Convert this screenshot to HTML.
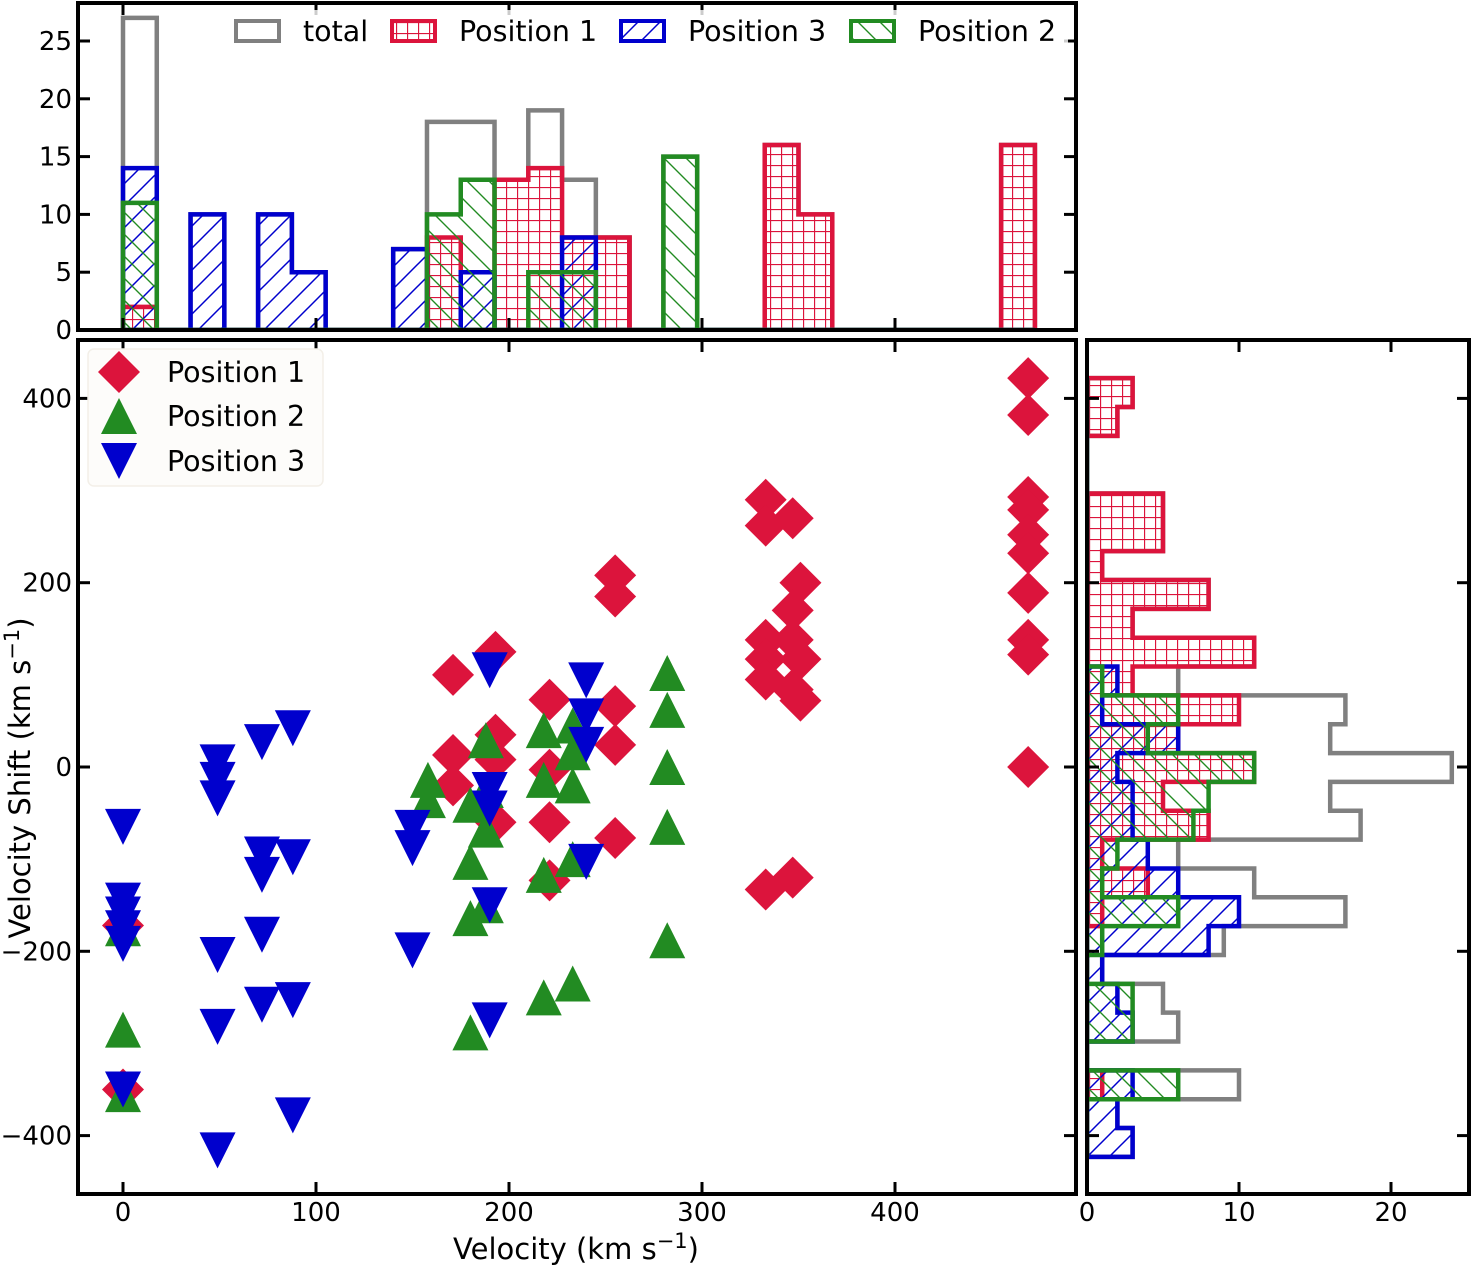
<!DOCTYPE html>
<html><head><meta charset="utf-8"><style>
html,body{margin:0;padding:0;background:#fff;}
svg{display:block;font-family:"DejaVu Sans","Liberation Sans",sans-serif;}
</style></head><body>
<svg id="fig" width="1472" height="1266" viewBox="0 0 1472 1266" xmlns="http://www.w3.org/2000/svg">
<defs>
<pattern id="hatchRed" patternUnits="userSpaceOnUse" width="11" height="11"><path d="M0,0.5H11M0.5,0V11" stroke="#dc143c" stroke-width="1.3"/></pattern>
<pattern id="hatchBlue" patternUnits="userSpaceOnUse" width="22" height="22"><path d="M-2,24L24,-2M-13,13L13,-13M9,35L35,9" stroke="#0000cd" stroke-width="1.5"/></pattern>
<pattern id="hatchGreen" patternUnits="userSpaceOnUse" width="22" height="22"><path d="M-2,-2L24,24M-13,9L13,35M9,-13L35,13" stroke="#228b22" stroke-width="1.4"/></pattern>
<clipPath id="clipTop"><rect x="78" y="3" width="998" height="327"/></clipPath>
<clipPath id="clipMain"><rect x="78" y="340" width="998" height="854"/></clipPath>
<clipPath id="clipRight"><rect x="1087" y="340" width="382" height="854"/></clipPath>
</defs>
<g id="topHist" clip-path="url(#clipTop)"></g>
<g id="rightHist" clip-path="url(#clipRight)"></g>
<g id="scatter" clip-path="url(#clipMain)"></g>
<g id="axes"></g>
</svg>
<script>
// ---- data ----
const p1V = [0,0,171,171,171,193,193,193,193,221,221,221,221,255,255,255,255,255,333,333,347,351,347,333,347,333,351,333,347,351,333,347,469,469,469,469,469,469,469,469,469,469];
const p1S = [-172,-350,100,13,-20,125,35,8,-60,73,-3,-60,-123,208,185,66,24,-77,290,262,270,200,170,138,138,117,117,95,84,72,-133,-120,422,382,293,279,252,232,189,138,122,0];
const p2V = [0,0,0,158,158,180,180,180,180,188,188,188,188,218,218,218,218,233,233,233,233,233,282,282,282,282,282];
const p2S = [-175,-285,-355,-14,-36,-41,-103,-164,-288,29,-25,-68,-150,40,-14,-117,-250,45,16,-20,-100,-235,102,62,0,-65,-188];
const p3V = [0,0,0,0,0,0,49,49,49,49,49,49,72,72,72,72,72,88,88,88,88,150,150,150,190,190,190,190,190,240,240,240,240];
const p3S = [-65,-145,-160,-175,-192,-350,5,-14,-34,-204,-282,-416,27,-95,-117,-182,-258,42,-98,-253,-378,-66,-88,-199,105,-25,-45,-150,-275,94,55,24,-103];
const topBinWidth = 17.5;
const topTotal = [27,0,10,0,10,5,0,0,7,18,18,13,19,13,8,0,15,0,0,16,10,0,0,0,0,0,16];
const topP1    = [2,0,0,0,0,0,0,0,0,8,0,13,14,8,8,0,0,0,0,16,10,0,0,0,0,0,16];
const topP3    = [14,0,10,0,10,5,0,0,7,0,5,0,0,8,0,0,0,0,0,0,0,0,0,0,0,0,0];
const topP2    = [11,0,0,0,0,0,0,0,0,10,13,0,5,5,0,0,15,0,0,0,0,0,0,0,0,0,0];
const rightBinTop = 422, rightBinWidth = 31.3;
const rightTotal = [3,2,0,0,5,5,1,8,3,11,6,17,16,24,16,18,6,11,17,9,1,5,6,0,10,2,3];
const rightP1    = [3,2,0,0,5,5,1,8,3,11,3,10,6,11,5,8,1,4,1,0,0,0,0,0,1,0,0];
const rightP3    = [0,0,0,0,0,0,0,0,0,0,2,1,6,2,3,3,4,6,10,8,1,2,3,0,3,2,3];
const rightP2    = [0,0,0,0,0,0,0,0,0,0,1,6,4,11,8,7,2,1,6,1,0,3,3,0,6,0,0];
const xTicks = [0,100,200,300,400];
const yTicks = [-400,-200,0,200,400];
const topYTicks = [0,5,10,15,20,25];
const rightXTicks = [0,10,20];

const X = v => 123 + v*1.93;
const Y = s => 767 - s*0.9215;
const HY = c => 330 - c*11.56;
const HX = c => 1087 + c*15.2;
const NS = "http://www.w3.org/2000/svg";
function mk(tag, attrs, parent){const e=document.createElementNS(NS,tag);for(const k in attrs)e.setAttribute(k,attrs[k]);parent.appendChild(e);return e;}
const RED="#dc143c", GREEN="#228b22", BLUE="#0000cd", GREY="#808080";

const gTop=document.getElementById('topHist');
function topStep(counts){let d=`M${X(0)},${HY(0)}`;counts.forEach((c,k)=>{d+=`L${X(k*topBinWidth)},${HY(c)}L${X((k+1)*topBinWidth)},${HY(c)}`;});d+=`L${X(counts.length*topBinWidth)},${HY(0)}Z`;return d;}
[[topTotal,GREY,'none','top-hist-total'],[topP1,RED,'url(#hatchRed)','top-hist-position-1'],[topP3,BLUE,'url(#hatchBlue)','top-hist-position-3'],[topP2,GREEN,'url(#hatchGreen)','top-hist-position-2']].forEach(([c,col,fill,name])=>{
  const p=mk('path',{d:topStep(c),fill:fill,stroke:col,'stroke-width':4.5,'stroke-linejoin':'miter'},gTop);
  
  
});
const gR=document.getElementById('rightHist');
function rightStep(counts){let d=`M${HX(0)},${Y(rightBinTop)}`;counts.forEach((c,i)=>{d+=`L${HX(c)},${Y(rightBinTop-i*rightBinWidth)}L${HX(c)},${Y(rightBinTop-(i+1)*rightBinWidth)}`;});d+=`L${HX(0)},${Y(rightBinTop-counts.length*rightBinWidth)}Z`;return d;}
[[rightTotal,GREY,'none','right-hist-total'],[rightP1,RED,'url(#hatchRed)','right-hist-position-1'],[rightP3,BLUE,'url(#hatchBlue)','right-hist-position-3'],[rightP2,GREEN,'url(#hatchGreen)','right-hist-position-2']].forEach(([c,col,fill,name])=>{
  const p=mk('path',{d:rightStep(c),fill:fill,stroke:col,'stroke-width':4.5},gR);
  
  
});
const gS=document.getElementById('scatter');
function diamond(cx,cy,r){return `M${cx},${cy-r}L${cx+r},${cy}L${cx},${cy+r}L${cx-r},${cy}Z`;}
function triUp(cx,cy,r){return `M${cx},${cy-r}L${cx+r},${cy+r}L${cx-r},${cy+r}Z`;}
function triDown(cx,cy,r){return `M${cx},${cy+r}L${cx+r},${cy-r}L${cx-r},${cy-r}Z`;}
p1V.forEach((v,i)=>{const m=mk('path',{d:diamond(X(v),Y(p1S[i]),21),fill:RED},gS);
  
  });
p2V.forEach((v,i)=>{const m=mk('path',{d:triUp(X(v),Y(p2S[i]),18),fill:GREEN},gS);
  
  });
p3V.forEach((v,i)=>{const m=mk('path',{d:triDown(X(v),Y(p3S[i]),18),fill:BLUE},gS);
  
  });

const gA=document.getElementById('axes');
function box(x,y,w,h,name){const r=mk('rect',{x:x,y:y,width:w,height:h,fill:'none',stroke:'#000','stroke-width':4},gA);
  }
box(78,3,998,327,'top-hist-frame');
box(78,340,998,854,'main-plot-frame');
box(1087,340,382,854,'right-hist-frame');
function line(x1,y1,x2,y2){mk('line',{x1,y1,x2,y2,stroke:'#000','stroke-width':3},gA);}
function txt(s,x,y,anchor,size,name){const t=mk('text',{x:x,y:y,'text-anchor':anchor,'font-size':size,fill:'#000'},gA);t.textContent=s;
  return t;}
const TL=12;
xTicks.forEach(v=>{const x=X(v);line(x,1194,x,1194-TL);line(x,340,x,340+TL);line(x,330,x,330-TL);line(x,3,x,3+TL);
  txt(String(v),x,1221,'middle',26,'x-tick-label');});
yTicks.forEach(s=>{const y=Y(s);line(78,y,78+TL,y);line(1076,y,1076-TL,y);line(1087,y,1087+TL,y);line(1469,y,1469-TL,y);
  txt(String(s).replace('-','\u2212'),72,y+9,'end',26,'y-tick-label');});
topYTicks.forEach(c=>{const y=HY(c);line(78,y,78+TL,y);line(1076,y,1076-TL,y);
  txt(String(c),72,y+9,'end',26,'top-hist-y-tick-label');});
rightXTicks.forEach(c=>{const x=HX(c);line(x,1194,x,1194-TL);line(x,340,x,340+TL);
  txt(String(c),x,1221,'middle',26,'right-hist-x-tick-label');});
const xl=txt('Velocity (km s',576,1259,'middle',29,'x-axis-title');
const sup=document.createElementNS(NS,'tspan');sup.setAttribute('dy','-11');sup.setAttribute('font-size','21');sup.textContent='\u22121';xl.appendChild(sup);
const cl=document.createElementNS(NS,'tspan');cl.setAttribute('dy','11');cl.textContent=')';xl.appendChild(cl);
const yl=txt('Velocity Shift (km s',0,0,'middle',29,'y-axis-title');yl.setAttribute('transform','translate(30,778) rotate(-90)');
const sup2=document.createElementNS(NS,'tspan');sup2.setAttribute('dy','-11');sup2.setAttribute('font-size','21');sup2.textContent='\u22121';yl.appendChild(sup2);
const cl2=document.createElementNS(NS,'tspan');cl2.setAttribute('dy','11');cl2.textContent=')';yl.appendChild(cl2);

const lg=mk('rect',{x:88,y:349,width:235,height:137,rx:6,fill:'#fdfcfa',stroke:'#f3efe8','stroke-width':1.5},gA);


mk('path',{d:diamond(119,372,21),fill:RED},gA);
mk('path',{d:triUp(119,416,18),fill:GREEN},gA);
mk('path',{d:triDown(119,461,18),fill:BLUE},gA);
txt('Position 1',167,382,'start',28.5,'legend-entry-position-1');
txt('Position 2',167,426,'start',28.5,'legend-entry-position-2');
txt('Position 3',167,471,'start',28.5,'legend-entry-position-3');
const tl=mk('rect',{x:226,y:10,width:842,height:44,rx:6,fill:'#ffffff','fill-opacity':0.8,stroke:'none'},gA);


[[236,'total',GREY,'none'],[392,'Position 1',RED,'url(#hatchRed)'],[621,'Position 3',BLUE,'url(#hatchBlue)'],[851,'Position 2',GREEN,'url(#hatchGreen)']].forEach(([x,lab,col,fill])=>{
  mk('rect',{x:x,y:21,width:43,height:20,fill:fill,stroke:col,'stroke-width':4},gA);
  txt(lab,x+67,41,'start',28.5,'hist-legend-entry');
});
</script>
</body></html>
